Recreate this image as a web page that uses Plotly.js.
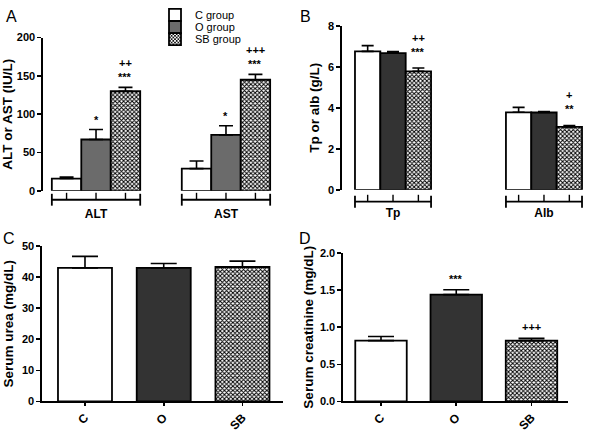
<!DOCTYPE html>
<html><head><meta charset="utf-8">
<script src="https://cdn.plot.ly/plotly-3.0.1.min.js"></script>
<style>html,body{margin:0;padding:0;background:#fff}#chart{width:600px;height:433px}</style>
</head><body><div id="chart"></div>
<script>
// ---- data ----
const groups = ['C group', 'O group', 'SB group'];
const liverCats = ['ALT', 'AST'];
const liverMean = {C: [16, 29], O: [67, 73], SB: [130, 145]};
const liverErr  = {C: [2, 10], O: [13, 12], SB: [5, 7]};
const protCats = ['Tp', 'Alb'];
const protMean = {C: [6.75, 3.78], O: [6.67, 3.77], SB: [5.78, 3.07]};
const protErr  = {C: [0.28, 0.24], O: [0.07, 0.05], SB: [0.16, 0.07]};
const renalCats = ['C', 'O', 'SB'];
const ureaMean = [43.0, 43.0, 43.3];
const ureaErr  = [3.7, 1.4, 1.9];
const creatMean = [0.82, 1.44, 0.82];
const creatErr  = [0.055, 0.065, 0.03];
// significance marks: [category index, group index, stars, pluses]
const liverSig = [[0,1,'*',''],[0,2,'***','++'],[1,1,'*',''],[1,2,'***','+++']];
const protSig  = [[0,2,'***','++'],[1,2,'**','+']];
const creatSig = [[1,'***'],[2,'+++']];

// ---- styles ----
const FONT = 'Arial, "Liberation Sans", sans-serif';
const keys = ['C','O','SB'];
const fillA = {C:'#ffffff', O:'#6b6b6b', SB:'#ffffff'};
const fillB = {C:'#ffffff', O:'#333333', SB:'#ffffff'};
const pat = {shape:'x', fgcolor:'#000', bgcolor:'#fff', size:3, solidity:0.55, fillmode:'replace'};
const noPat = {shape:''};
const A_GAP = 0.32, Aw = (1 - A_GAP)/3;
const Bw = 0.168;
const legendNames = ['legend','legend2','legend3'];

function errY(arr, halfw){return {type:'data', array:arr, arrayminus:arr.map(()=>0), color:'#000', thickness:1.6, width:halfw, visible:true};}

const traces = [];
keys.forEach((k,i)=>{
  traces.push({type:'bar', x:liverCats, y:liverMean[k], name:groups[i], xaxis:'x', yaxis:'y',
    marker:{color:fillA[k], line:{color:'#000', width:1.8}, pattern: k==='SB'?pat:noPat},
    error_y: errY(liverErr[k], 7), showlegend:true, legend:legendNames[i]});
});
keys.forEach((k,i)=>{
  traces.push({type:'bar', x:[0,1], y:protMean[k], name:groups[i], xaxis:'x2', yaxis:'y2',
    width:Bw, offset:(i-1.5)*Bw,
    marker:{color:fillB[k], line:{color:'#000', width:1.8}, pattern: k==='SB'?pat:noPat},
    error_y: errY(protErr[k], 6), showlegend:false});
});
function renal(vals, errs, xa, ya, bw){
  keys.forEach((k,i)=>{
    traces.push({type:'bar', x:[renalCats[i]], y:[vals[i]], xaxis:xa, yaxis:ya, width:bw, offset:-bw/2, showlegend:false,
      marker:{color:fillB[k], line:{color:'#000', width:1.8}, pattern: k==='SB'?pat:noPat},
      error_y: errY([errs[i]], 13)});
  });
}
renal(ureaMean, ureaErr, 'x3', 'y3', 0.686);
renal(creatMean, creatErr, 'x4', 'y4', 0.684);

const W = 600, H = 433;
const px = v => v/W, py = v => 1 - v/H;
const tickF = {family:FONT, size:11, color:'#000', weight:'bold'};
const titleF = {family:FONT, size:13.5, color:'#000', weight:'bold'};
function yax(domain, range, dtick, anchor, title, standoff){
  return {domain, range, dtick, anchor, showgrid:false, zeroline:false, showline:true, linecolor:'#000', linewidth:1.6,
    ticks:'outside', ticklen:4, tickwidth:1.6, tickcolor:'#000', tickfont:tickF,
    title:{text:title, font:titleF, standoff:standoff}, fixedrange:true};
}
function xaxGroup(domain, range, anchor, tickvals, ticktext, standoff){
  return {domain, range, anchor, showgrid:false, zeroline:false, showline:false, ticks:'',
    tickmode:'array', tickvals, ticktext, tickfont:{family:FONT, size:12, color:'#000', weight:'bold'},
    ticklabelstandoff:standoff, fixedrange:true};
}
function xaxCat(domain, range, anchor){
  return {domain, range, anchor, type:'category', categoryarray:renalCats, categoryorder:'array',
    showgrid:false, zeroline:false, showline:true, linecolor:'#000', linewidth:1.6,
    ticks:'outside', ticklen:3, tickwidth:1.6, tickcolor:'#000', tickangle:-45,
    tickfont:{family:FONT, size:12, color:'#000', weight:'bold'}, fixedrange:true};
}

const shapes = [];
function bracket(xref, center, half, barOffsets, yLine, yCapTop, yCapBot, yTickTop){
  const L = {color:'#000', width:1.8};
  shapes.push({type:'line', xref, yref:'paper', x0:center-half, x1:center+half, y0:py(yLine), y1:py(yLine), line:L});
  shapes.push({type:'line', xref, yref:'paper', x0:center-half, x1:center-half, y0:py(yCapTop), y1:py(yCapBot), line:L});
  shapes.push({type:'line', xref, yref:'paper', x0:center+half, x1:center+half, y0:py(yCapTop), y1:py(yCapBot), line:L});
  barOffsets.forEach(o=>shapes.push({type:'line', xref, yref:'paper', x0:center+o, x1:center+o, y0:py(yTickTop), y1:py(yLine), line:{color:'#000', width:1.4}}));
}
[0,1].forEach(c=>bracket('x', c, 1.5*Aw, [-Aw,0,Aw], 197, 191, 203, 190));
[0,1].forEach(c=>bracket('x2', c, 1.5*Bw, [-Bw,0,Bw], 199, 193, 205, 192));

const annotations = [];
function txt(xref, yref, x, y, text, shift){
  annotations.push({xref, yref, x, y, text, showarrow:false, yanchor:'bottom', yshift:shift,
    font:{family:FONT, size:11, color:'#000', weight:'bold'}});
}
liverSig.forEach(([c,g,st,pl])=>{
  const x = c + (g-1)*Aw, y = liverMean[keys[g]][c] + liverErr[keys[g]][c];
  txt('x','y',x,y,st,2);
  if(pl) txt('x','y',x,y,pl,16);
});
protSig.forEach(([c,g,st,pl])=>{
  const x = c + (g-1)*Bw, y = protMean[keys[g]][c] + protErr[keys[g]][c];
  txt('x2','y2',x,y,st,8);
  if(pl) txt('x2','y2',x,y,pl,22);
});
creatSig.forEach(([i,t])=>{ txt('x4','y4',i,creatMean[i]+creatErr[i],t,3); });
// panel letters
[['A',11,12],['B',305,12],['C',9,236],['D',305,236]].forEach(([t,x,y])=>{
  annotations.push({xref:'paper', yref:'paper', x:px(x), y:py(y), text:t, showarrow:false, xanchor:'center', yanchor:'middle',
    font:{family:FONT, size:16, color:'#000'}});
});

function leg(yc){
  return {x:px(155), y:py(yc), xanchor:'left', yanchor:'middle', bgcolor:'rgba(0,0,0,0)',
    font:{family:FONT, size:11, color:'#000'}, itemwidth:30};
}
const layout = {
  width:W, height:H, margin:{l:0,r:0,t:0,b:0}, paper_bgcolor:'#fff', plot_bgcolor:'rgba(0,0,0,0)',
  barmode:'group', bargap:A_GAP, bargroupgap:0,
  font:{family:FONT, color:'#000'},
  showlegend:true,
  legend:leg(10), legend2:leg(22.3), legend3:leg(34.6),
  xaxis: xaxGroup([px(43), px(279)], [-0.408, 1.408], 'y', [0,1], liverCats, 14),
  yaxis: yax([py(188), py(33)], [0,200], 50, 'x', 'ALT or AST (IU/L)', 5),
  xaxis2: xaxGroup([px(342), px(595)], [-0.338, 1.338], 'y2', [0,1], protCats, 14),
  yaxis2: yax([py(187), py(21)], [0,8], 2, 'x2', 'Tp or alb (g/L)', 5),
  xaxis3: xaxCat([px(42), px(283)], [-0.546, 2.515], 'y3'),
  yaxis3: yax([py(401), py(244)], [0,50], 10, 'x3', 'Serum urea (mg/dL)', 5),
  xaxis4: xaxCat([px(343), px(568)], [-0.505, 2.485], 'y4'),
  yaxis4: yax([py(401), py(251)], [0,2], 0.5, 'x4', 'Serum creatinine (mg/dL)', 3),
  shapes, annotations
};
layout.yaxis4.tickformat = '.1f';
Plotly.newPlot('chart', traces, layout, {displayModeBar:false, staticPlot:true});
</script></body></html>
